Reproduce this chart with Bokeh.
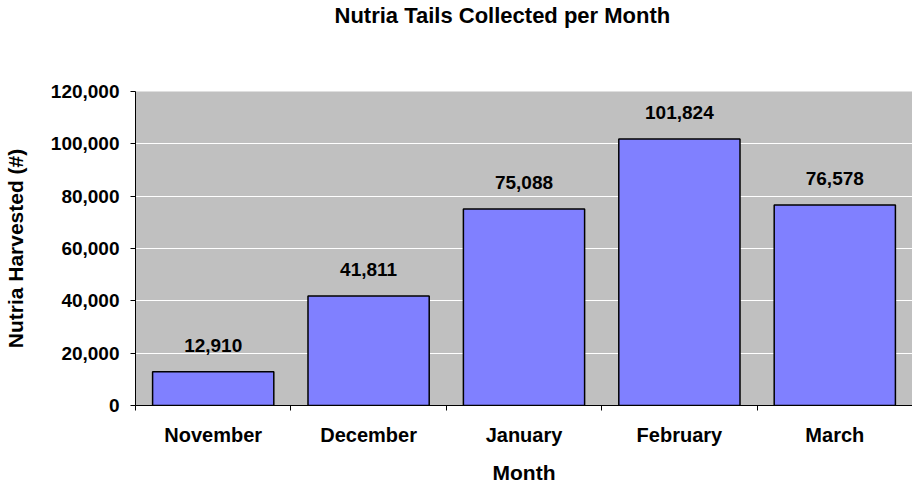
from bokeh.plotting import figure
from bokeh.models import (ColumnDataSource, Range1d, FixedTicker, NumeralTickFormatter,
                          LabelSet, Title)
from bokeh.core.properties import value
from bokeh.embed import file_html
from bokeh.resources import INLINE

# ---- data ----
months = ["November", "December", "January", "February", "March"]
tails = [12910, 41811, 75088, 101824, 76578]
y_ticks = [0, 20000, 40000, 60000, 80000, 100000, 120000]
title_text = "Nutria Tails Collected per Month"
x_title = "Month"
y_title = "Nutria Harvested (#)"

FONT = "Liberation Sans"

positions = [i + 0.5 for i in range(len(months))]
boundaries = list(range(len(months) + 1))
src = ColumnDataSource(dict(x=positions, top=tails,
                            label=[f"{v:,}" for v in tails]))

p = figure(width=912, height=486, output_backend="svg", toolbar_location=None,
           x_range=Range1d(0, len(months)), y_range=Range1d(0, y_ticks[-1]),
           min_border_left=132, min_border_right=0, min_border_top=90,
           min_border_bottom=80, title=None)

# spacer panel between frame and title (pushes the title to the top)
spacer = Title(text=" ", text_font=FONT, text_font_size="22px", standoff=37)
p.add_layout(spacer, "above")
main_title = Title(text=title_text, align="left", offset=199, standoff=0,
                   text_font=FONT, text_font_style="bold", text_font_size="22px",
                   text_color="black")
p.add_layout(main_title, "above")

p.background_fill_color = "#C0C0C0"
p.border_fill_color = "white"
p.outline_line_color = None

p.xgrid.visible = False
p.ygrid.grid_line_color = "white"
p.ygrid.grid_line_width = 1

p.vbar(x="x", top="top", bottom=0, width=0.78, source=src,
       fill_color="#8080FF", line_color="black", line_width=1.5)

labels = LabelSet(x="x", y="top", text="label", source=src,
                  text_align="center", text_baseline="alphabetic", y_offset=20,
                  text_font=value(FONT), text_font_style="bold",
                  text_font_size="19px", text_color="black")
p.add_layout(labels)

# x axis
xa = p.xaxis[0]
xa.ticker = FixedTicker(ticks=positions, minor_ticks=boundaries)
xa.major_label_overrides = {pos: m for pos, m in zip(positions, months)}
xa.major_tick_line_color = None
xa.major_tick_out = 0
xa.major_tick_in = 0
xa.minor_tick_line_color = "black"
xa.minor_tick_out = 5
xa.minor_tick_in = 0
xa.axis_line_color = "black"
xa.axis_line_width = 1
xa.major_label_text_font = FONT
xa.major_label_text_font_style = "bold"
xa.major_label_text_font_size = "20px"
xa.major_label_text_color = "black"
xa.major_label_standoff = 13
xa.axis_label = x_title
xa.axis_label_text_font = FONT
xa.axis_label_text_font_style = "bold"
xa.axis_label_text_font_size = "21px"
xa.axis_label_text_color = "black"
xa.axis_label_standoff = 12

# y axis
ya = p.yaxis[0]
ya.ticker = FixedTicker(ticks=y_ticks)
ya.formatter = NumeralTickFormatter(format="0,0")
ya.major_tick_out = 5
ya.major_tick_in = 0
ya.major_tick_line_color = "black"
ya.minor_tick_line_color = None
ya.axis_line_color = "black"
ya.major_label_text_font = FONT
ya.major_label_text_font_style = "bold"
ya.major_label_text_font_size = "19px"
ya.major_label_text_color = "black"
ya.major_label_standoff = 11
ya.axis_label = y_title
ya.axis_label_text_font = FONT
ya.axis_label_text_font_style = "bold"
ya.axis_label_text_font_size = "21px"
ya.axis_label_text_color = "black"
ya.axis_label_standoff = 21

open("out.html", "w").write(file_html(p, INLINE))
